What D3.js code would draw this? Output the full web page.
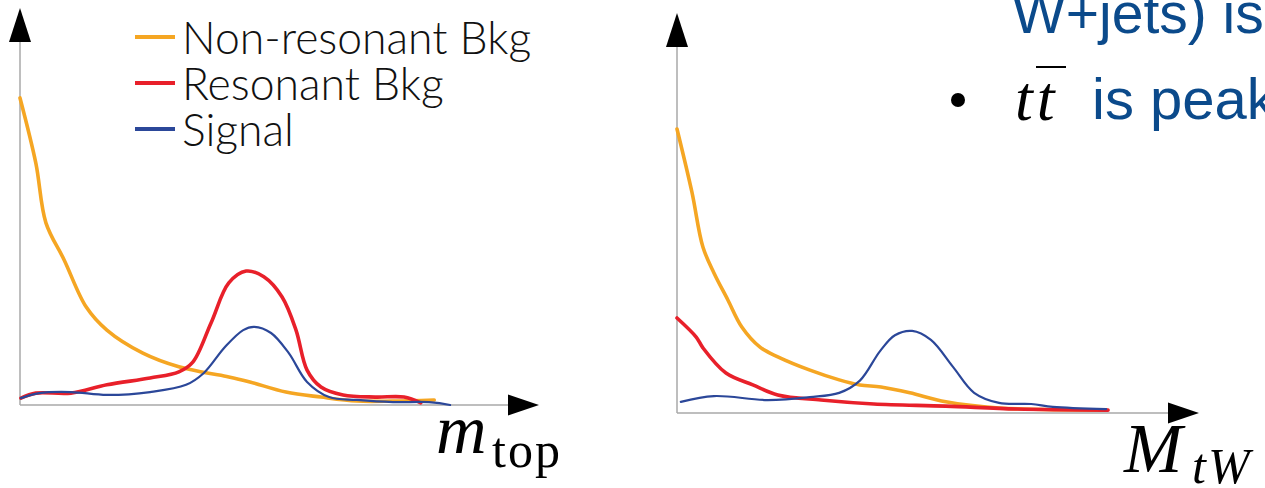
<!DOCTYPE html>
<html>
<head>
<meta charset="utf-8">
<script src="https://cdn.jsdelivr.net/npm/d3@7/dist/d3.min.js"></script>
<style>
  html, body { margin: 0; padding: 0; background: #fff; overflow: hidden; }
  svg { display: block; }
</style>
</head>
<body>
<svg id="chart" width="1265" height="488"></svg>
<script>
// ---- data (arbitrary units, x in 0..100, y in 0..100) ----
const seriesNames = ["Non-resonant Bkg", "Resonant Bkg", "Signal"];
const seriesColors = ["#f5a623", "#e8202a", "#2b4799"];

// left panel: m_top
const topNonresX = [0, 3.3, 5.4, 9.2, 13.8, 18.1, 25.6, 33.1, 39.0, 43.5, 47.9, 55.4, 62.7, 70.2, 77.7, 86.3];
const topNonresY = [85.3, 67.2, 50.6, 40.3, 27.2, 20.8, 14.4, 10.6, 8.9, 7.8, 6.4, 3.6, 2.2, 1.1, 1.1, 1.4];
const topResX = [0.2, 3.3, 10.6, 18.1, 27.1, 33.1, 36.0, 39.8, 43.5, 47.1, 50.8, 54.6, 57.5, 59.8, 62.7, 67.3, 74.0, 80.0, 83.5];
const topResY = [1.9, 3.3, 3.3, 5.6, 7.5, 9.2, 11.9, 22.8, 33.9, 37.2, 35.6, 30.0, 20.8, 9.7, 5.0, 2.8, 2.2, 2.2, 0.6];
const topSigX = [0.2, 4.0, 10.6, 18.1, 27.1, 34.6, 38.3, 42.7, 46.5, 48.8, 52.3, 56.0, 59.8, 64.4, 70.2, 77.7, 85.2, 89.6];
const topSigY = [1.9, 3.3, 3.6, 2.8, 3.6, 5.6, 8.9, 16.1, 20.8, 21.7, 20.0, 14.4, 6.4, 2.2, 1.4, 0.8, 0.8, 0.0];

// right panel: M_tW
const twNonresX = [0, 3.1, 5.4, 7.7, 10.6, 13.5, 17.3, 21.0, 27.7, 33.8, 38.1, 42.5, 48.5, 56.0, 67.1, 89.4];
const twNonresY = [78.9, 61.4, 46.1, 38.9, 31.4, 23.9, 18.3, 15.6, 11.9, 9.2, 7.8, 7.2, 5.6, 3.1, 1.4, 0.8];
const twResX = [0, 4.0, 5.4, 10.2, 15.8, 21.0, 30.0, 41.0, 56.0, 70.8, 89.8];
const twResY = [26.4, 21.1, 18.1, 11.1, 7.8, 5.0, 3.6, 2.5, 1.9, 1.1, 0.8];
const twSigX = [0.8, 7.7, 18.8, 27.7, 33.8, 38.1, 42.3, 45.4, 49.0, 52.9, 57.5, 61.9, 67.1, 73.8, 78.3, 89.4];
const twSigY = [3.1, 4.7, 3.6, 4.4, 5.6, 9.0, 17.2, 21.6, 22.8, 20.3, 12.8, 5.6, 2.8, 2.5, 1.7, 1.1];

const svg = d3.select("#chart");
const serif = "'Liberation Serif', 'DejaVu Serif', serif";
const sans = "'Liberation Sans', Arial, sans-serif";

function zip(xs, ys) { return xs.map((x, i) => ({ x, y: ys[i] })); }

function drawPanel(opts) {
  const g = svg.append("g");
  const x = d3.scaleLinear().domain([0, 100]).range([opts.x0, opts.x0 + 480]);
  const y = d3.scaleLinear().domain([0, 100]).range([opts.y0, opts.y0 - 360]);

  // axes without ticks: thin grey lines ending in black arrowheads
  const gx = g.append("g").attr("transform", `translate(0,${opts.y0})`)
    .call(d3.axisBottom(x).tickValues([]).tickSizeOuter(0));
  const gy = g.append("g")
    .call(d3.axisLeft(y).tickValues([]).tickSizeOuter(0));
  gx.select(".domain").attr("d", `M${opts.x0},0H${opts.xEnd}`)
    .attr("stroke", "#a8a8a8").attr("stroke-width", 1.5);
  gy.select(".domain").attr("d", `M${opts.x0},${opts.y0}V${opts.yEnd}`)
    .attr("stroke", "#a8a8a8").attr("stroke-width", 1.5);

  g.append("path")
    .attr("d", `M${opts.xEnd},${opts.y0 - 10.5}L${opts.xEnd + 31},${opts.y0}L${opts.xEnd},${opts.y0 + 10.5}Z`)
    .attr("fill", "#000");
  g.append("path")
    .attr("d", `M${opts.x0 - 11},${opts.yEnd}L${opts.x0},${opts.yEnd - 34}L${opts.x0 + 11},${opts.yEnd}Z`)
    .attr("fill", "#000");

  const line = d3.line().x(d => x(d.x)).y(d => y(d.y)).curve(d3.curveCatmullRom.alpha(0.5));
  opts.series.forEach((s, i) => {
    g.append("path")
      .datum(zip(s[0], s[1]))
      .attr("fill", "none")
      .attr("stroke", seriesColors[i])
      .attr("stroke-width", i === 2 ? 2.2 : 3.6)
      .attr("stroke-linejoin", "round")
      .attr("stroke-linecap", "round")
      .attr("d", line);
  });
  return g;
}

// draw order: orange, then red, then blue on top
drawPanel({
  x0: 20, y0: 405, xEnd: 508, yEnd: 42,
  series: [[topNonresX, topNonresY], [topResX, topResY], [topSigX, topSigY]]
});
drawPanel({
  x0: 677, y0: 413, xEnd: 1168, yEnd: 47,
  series: [[twNonresX, twNonresY], [twResX, twResY], [twSigX, twSigY]]
});

// legend
const legend = svg.append("g").attr("transform", "translate(135,0)");
seriesNames.forEach((name, i) => {
  const cy = 37 + i * 46;
  legend.append("line")
    .attr("x1", 0).attr("x2", 40).attr("y1", cy).attr("y2", cy)
    .attr("stroke", seriesColors[i]).attr("stroke-width", 4);
  legend.append("text")
    .attr("x", 47).attr("y", cy + 17)
    .attr("font-family", "Lato, sans-serif").attr("font-weight", 300)
    .attr("font-size", 44.5).attr("fill", "#111")
    .text(name);
});

// axis titles
const mtop = svg.append("text").attr("y", 453).attr("font-family", serif).attr("fill", "#000");
mtop.append("tspan").attr("x", 436).attr("font-style", "italic").attr("font-size", 70).text("m");
mtop.append("tspan").attr("x", 492).attr("y", 467).attr("font-size", 50)
  .attr("letter-spacing", 2).text("top");

const mtw = svg.append("text").attr("y", 472).attr("font-family", serif).attr("fill", "#000");
mtw.append("tspan").attr("x", 1124).attr("font-style", "italic").attr("font-size", 70).text("M");
mtw.append("tspan").attr("x", 1192).attr("y", 483).attr("font-style", "italic").attr("font-size", 50)
  .attr("letter-spacing", 2).text("tW");

// slide text at the upper right
svg.append("text").attr("x", 1012).attr("y", 33)
  .attr("font-family", sans).attr("font-size", 57)
  .attr("fill", "#0b4a8b").text("W+jets) is");
svg.append("circle").attr("cx", 958).attr("cy", 100).attr("r", 7).attr("fill", "#000");
svg.append("text").attr("x", 1015).attr("y", 120)
  .attr("font-family", serif).attr("font-size", 64)
  .attr("font-style", "italic").attr("fill", "#000")
  .attr("letter-spacing", 4)
  .text("tt");
svg.append("line").attr("x1", 1036).attr("x2", 1066).attr("y1", 67).attr("y2", 67)
  .attr("stroke", "#000").attr("stroke-width", 2);
svg.append("text").attr("x", 1092).attr("y", 119)
  .attr("font-family", sans).attr("font-size", 58)
  .attr("fill", "#0b4a8b").text("is peak");
</script>
</body>
</html>
